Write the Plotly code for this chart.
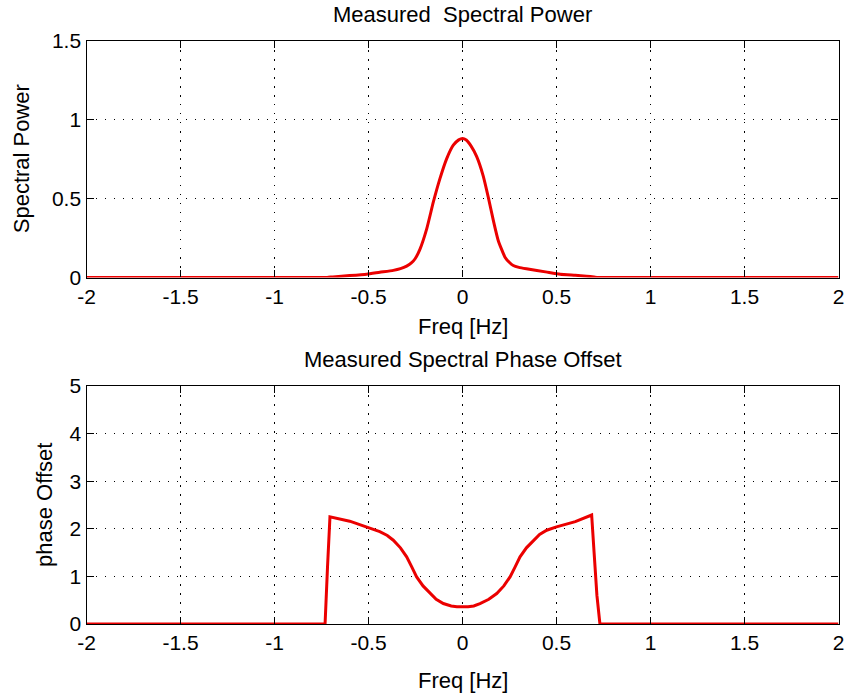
import plotly.graph_objects as go

W, H = 846, 694

# ---- data ----
power_freq = [-2.0, -1.0, -0.72, -0.69, -0.6, -0.51, -0.44, -0.368, -0.33, -0.297, -0.272, -0.252,
              -0.226, -0.19, -0.155, -0.12, -0.084, -0.049, -0.02, 0.0, 0.02, 0.045, 0.075,
              0.11, 0.137, 0.164, 0.19, 0.226, 0.25, 0.27, 0.3, 0.34, 0.45, 0.52, 0.6,
              0.66, 0.7, 0.72, 1.0, 2.0]
power_vals = [0.0, 0.0, 0.0, 0.004, 0.012, 0.021, 0.033, 0.045, 0.056, 0.072, 0.092, 0.119,
              0.18, 0.31, 0.479, 0.627, 0.754, 0.839, 0.873, 0.882, 0.872, 0.835, 0.768,
              0.645, 0.51, 0.362, 0.235, 0.129, 0.095, 0.076, 0.064, 0.055, 0.034, 0.021, 0.014,
              0.008, 0.003, 0.0, 0.0, 0.0]

phase_freq = [-2.0, -1.0, -0.731, -0.718, -0.705, -0.6, -0.51, -0.44, -0.4, -0.368, -0.33, -0.297,
              -0.27, -0.244, -0.21, -0.173, -0.14, -0.102, -0.06, -0.03, 0.0, 0.03, 0.06, 0.093,
              0.14, 0.182, 0.22, 0.253, 0.28, 0.306, 0.34, 0.377, 0.41, 0.448, 0.5, 0.6, 0.687,
              0.7, 0.715, 0.731, 1.0, 2.0]
phase_vals = [0.0, 0.0, 0.0, 1.2, 2.25, 2.16, 2.04, 1.94, 1.86, 1.76, 1.6, 1.41,
              1.2, 0.99, 0.8, 0.64, 0.52, 0.43, 0.38, 0.365, 0.36, 0.365, 0.38, 0.43,
              0.52, 0.64, 0.8, 0.99, 1.2, 1.41, 1.6, 1.76, 1.88, 1.97, 2.04, 2.15, 2.29,
              1.5, 0.6, 0.0, 0.0, 0.0]

x_ticks = [-2, -1.5, -1, -0.5, 0, 0.5, 1, 1.5, 2]
x_ticklabels = ["-2", "-1.5", "-1", "-0.5", "0", "0.5", "1", "1.5", "2"]
power_ticks = [0, 0.5, 1, 1.5]
power_ticklabels = ["0", "0.5", "1", "1.5"]
phase_ticks = [0, 1, 2, 3, 4, 5]
phase_ticklabels = ["0", "1", "2", "3", "4", "5"]

title_top = "Measured\u00a0 Spectral Power"
title_bottom = "Measured Spectral Phase Offset"
xlabel = "Freq [Hz]"
ylabel_top = "Spectral Power"
ylabel_bottom = "phase Offset"

# ---- layout geometry (pixels) ----
left, right = 86.5, 838.5
top1, bot1 = 41, 277.5
top2, bot2 = 386, 624

def px(x):
    return x / W

def py(y):
    return 1 - y / H

FONT = "Liberation Sans, Arial, sans-serif"
FS_TICK = 21
FS_TEXT = 22
RED = "rgb(235,0,0)"

fig = go.Figure()
fig.add_trace(go.Scatter(x=power_freq, y=power_vals, mode="lines",
                         line=dict(color=RED, width=3, shape="spline", smoothing=0.5),
                         xaxis="x", yaxis="y", showlegend=False, hoverinfo="skip"))
fig.add_trace(go.Scatter(x=phase_freq, y=phase_vals, mode="lines",
                         line=dict(color=RED, width=3), xaxis="x2", yaxis="y2",
                         showlegend=False, hoverinfo="skip"))

common_axis = dict(
    showline=True, linecolor="black", linewidth=1.3, mirror="ticks",
    ticks="inside", ticklen=7, tickwidth=1.3, tickcolor="black",
    showgrid=True, gridcolor="black", gridwidth=1, griddash="1.5px,7.5px",
    zeroline=False, automargin=False,
    tickfont=dict(family=FONT, size=FS_TICK, color="black"),
)

fig.update_layout(
    width=W, height=H,
    margin=dict(l=0, r=0, t=0, b=0),
    paper_bgcolor="white", plot_bgcolor="white",
    xaxis=dict(domain=[px(left), px(right)], anchor="y", range=[-2, 2],
               tickvals=x_ticks, ticktext=x_ticklabels, **common_axis),
    yaxis=dict(domain=[py(bot1), py(top1)], anchor="x", range=[0, 1.5],
               tickvals=power_ticks, ticktext=power_ticklabels, **common_axis),
    xaxis2=dict(domain=[px(left), px(right)], anchor="y2", range=[-2, 2],
                tickvals=x_ticks, ticktext=x_ticklabels, **common_axis),
    yaxis2=dict(domain=[py(bot2), py(top2)], anchor="x2", range=[0, 5],
                tickvals=phase_ticks, ticktext=phase_ticklabels, **common_axis),
)

cx = px((left + right) / 2)
ann = [
    dict(text=title_top, x=cx, y=py(14), xanchor="center", yanchor="middle"),
    dict(text=xlabel, x=cx, y=py(327), xanchor="center", yanchor="middle"),
    dict(text=title_bottom, x=cx, y=py(359), xanchor="center", yanchor="middle"),
    dict(text=xlabel, x=cx, y=py(680), xanchor="center", yanchor="middle"),
    dict(text=ylabel_top, x=px(21), y=py((top1 + bot1) / 2), xanchor="center",
         yanchor="middle", textangle=-90),
    dict(text=ylabel_bottom, x=px(44), y=py((top2 + bot2) / 2), xanchor="center",
         yanchor="middle", textangle=-90),
]
for a in ann:
    a.update(xref="paper", yref="paper", showarrow=False,
             font=dict(family=FONT, size=FS_TEXT, color="black"))
fig.update_layout(annotations=ann)

fig.write_html("out.html")
